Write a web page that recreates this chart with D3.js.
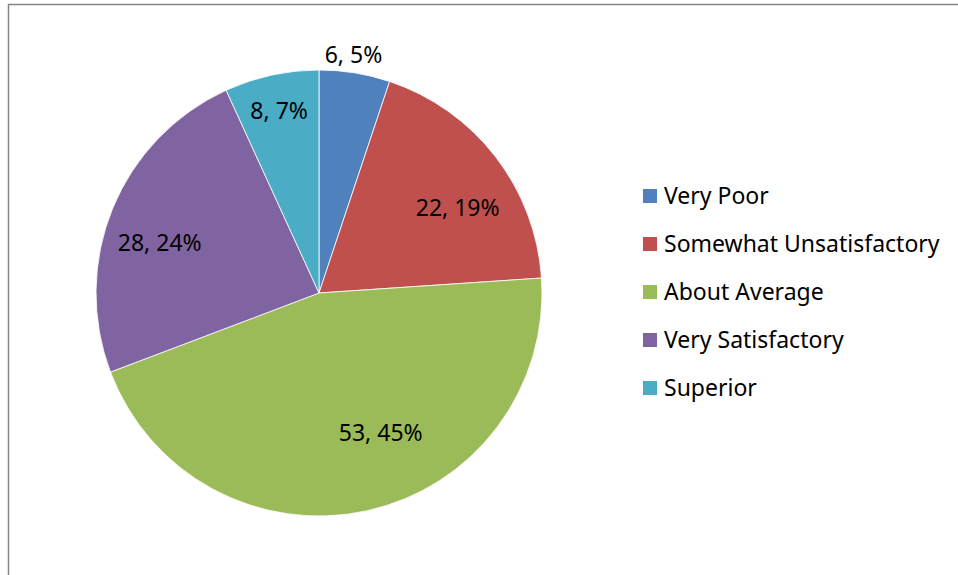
<!DOCTYPE html>
<html>
<head>
<meta charset="utf-8">
<script src="https://cdn.jsdelivr.net/npm/d3@7"></script>
<style>
  body { margin: 0; background: #fff; }
  svg { display: block; }
  text { font-family: "Noto Sans", "Open Sans", sans-serif; fill: #000; }
</style>
</head>
<body>
<div id="piechart"></div>
<script>
// data
var categories = ['Very Poor', 'Somewhat Unsatisfactory', 'About Average', 'Very Satisfactory', 'Superior'];
var counts = [6, 22, 53, 28, 8];
var percents = [5, 19, 45, 24, 7];

var colors = ['#4F81BD', '#C0504D', '#9BBB59', '#8064A2', '#4BACC6'];

// label placement (radius in px, angle shift in degrees from slice middle)
var label_radius = [241, 163, 153, 167, 187],
    label_shift = [-1, 6, -11.5, -4.8, 0];

var width = 958,
    height = 575,
    cx = 319,
    cy = 293,
    radius = 223,
    font_size = 23;

var data = categories.map(function (c, i) {
    return { name: c, value: counts[i], pct: percents[i], color: colors[i], i: i };
});

var svg = d3.select('#piechart')
    .append('svg')
    .attr('width', width)
    .attr('height', height);

// chart border (cut off at right and bottom like the original)
svg.append('rect')
    .attr('x', 8.5)
    .attr('y', 4.5)
    .attr('width', 980)
    .attr('height', 600)
    .attr('fill', 'none')
    .attr('stroke', '#868686')
    .attr('stroke-width', 1.5);

var pie = d3.pie()
    .value(function (d) { return d.value; })
    .sort(null);

var arc = d3.arc()
    .innerRadius(0)
    .outerRadius(radius);

var chart = svg.append('g')
    .attr('transform', 'translate(' + cx + ',' + cy + ')');

var arcs = pie(data);

chart.selectAll('.slice')
    .data(arcs)
    .enter()
    .append('path')
    .attr('class', 'slice')
    .attr('d', arc)
    .attr('fill', function (d) { return d.data.color; })
    .attr('stroke', '#fff')
    .attr('stroke-width', 0.8);

// slice labels
chart.selectAll('.label')
    .data(arcs)
    .enter()
    .append('text')
    .attr('class', 'label')
    .attr('x', function (d) {
        var a = (d.startAngle + d.endAngle) / 2 + label_shift[d.index] * Math.PI / 180;
        return label_radius[d.index] * Math.sin(a);
    })
    .attr('y', function (d) {
        var a = (d.startAngle + d.endAngle) / 2 + label_shift[d.index] * Math.PI / 180;
        return -label_radius[d.index] * Math.cos(a);
    })
    .attr('dy', '0.36em')
    .attr('text-anchor', 'middle')
    .style('font-size', font_size + 'px')
    .text(function (d) { return d.data.value + ', ' + d.data.pct + '%'; });

// legend
var legend_y = d3.scalePoint()
    .domain(categories)
    .range([196, 388]);

var legend = svg.selectAll('.legend')
    .data(data)
    .enter()
    .append('g')
    .attr('class', 'legend')
    .attr('transform', function (d) { return 'translate(643,' + legend_y(d.name) + ')'; });

legend.append('rect')
    .attr('x', 0)
    .attr('y', -7)
    .attr('width', 14)
    .attr('height', 14)
    .attr('fill', function (d) { return d.color; });

legend.append('text')
    .attr('x', 21)
    .attr('dy', '0.36em')
    .style('font-size', font_size + 'px')
    .text(function (d) { return d.name; });
</script>
</body>
</html>
